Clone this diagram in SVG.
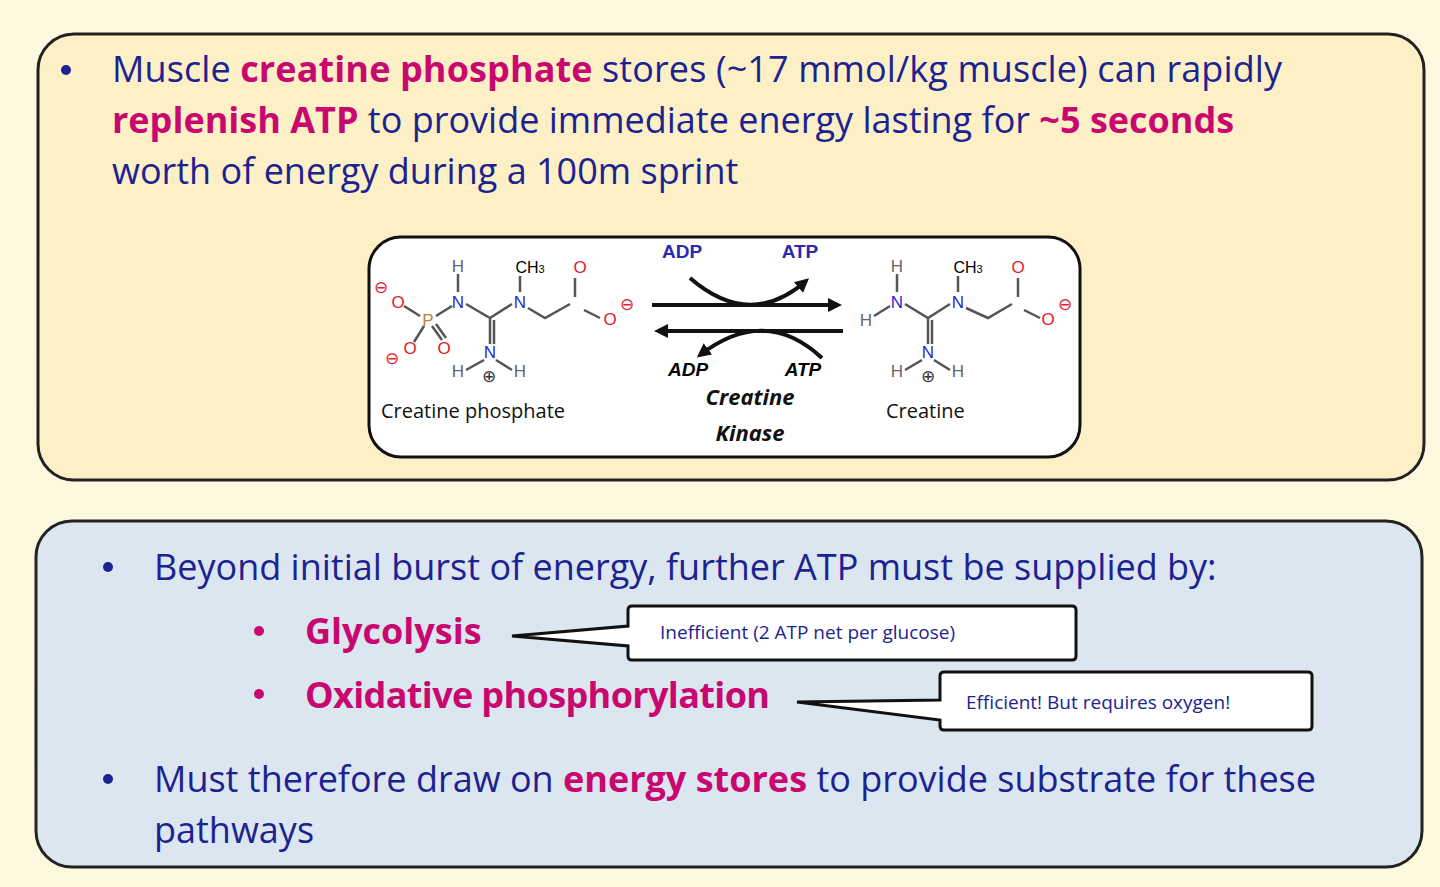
<svg xmlns="http://www.w3.org/2000/svg" width="1440" height="887" viewBox="0 0 1440 887">
<style>
.t{font-family:"Open Sans","Liberation Sans",sans-serif;font-size:36px;fill:#1c2390}
.m{fill:#c8086e;font-weight:bold}
.a{font-family:"Liberation Sans",sans-serif;font-size:17px;text-anchor:middle}
.r{fill:#e0202a}.b{fill:#2a2ac8}.g{fill:#666}
.bd{stroke:#555;stroke-width:2.5;fill:none}
.lbl{font-family:"Open Sans","Liberation Sans",sans-serif;font-size:20px;fill:#111}
.k{font-family:"Open Sans","Liberation Sans",sans-serif;font-size:22px;font-style:italic;font-weight:bold;fill:#111;text-anchor:middle}
.c{font-family:"Open Sans","Liberation Sans",sans-serif;font-size:19px;fill:#1c2390}
</style>
<defs><marker id="ah" markerWidth="16" markerHeight="16" refX="10" refY="8" orient="auto" markerUnits="userSpaceOnUse"><path d="M0,1 L14,8 L0,15 z" fill="#111"/></marker></defs>
<rect width="1440" height="887" fill="#fdf9df"/>
<g id="top">
<rect x="38" y="34" width="1386" height="446" rx="36" fill="#fdf0c6" stroke="#222" stroke-width="3"/>
<circle cx="66" cy="70" r="5" fill="#1c2390"/>
<text class="t" x="112" y="82" textLength="1170">Muscle <tspan class="m">creatine phosphate</tspan> stores (~17 mmol/kg muscle) can rapidly</text>
<text class="t" x="112" y="133"><tspan class="m">replenish ATP</tspan> to provide immediate energy lasting for <tspan class="m">~5 seconds</tspan></text>
<text class="t" x="112" y="184">worth of energy during a 100m sprint</text>
</g>
<g id="reaction">
<rect x="369" y="237" width="711" height="220" rx="32" fill="#fff" stroke="#111" stroke-width="3"/>
<g id="cp">
<path class="bd" d="M458,274V292 M466,304L490,318 L512,304 M490,318V344 M520,276V292 M528,308L545,318 L570,304 M575,297V278 M584,310L600,318 M452,306L436,316 M420,316L404,306 M424,326L414,342 M432,326L442,340 M436,324L446,338 M484,360L466,370 M496,360L512,370 M494,320V344"/>
<text class="a g" x="458" y="272">H</text>
<text class="a b" x="458" y="308">N</text>
<text class="a" x="530" y="273" style="font-size:16px">CH<tspan font-size="11">3</tspan></text>
<text class="a b" x="520" y="308">N</text>
<text class="a r" x="580" y="273">O</text>
<text class="a r" x="610" y="325">O</text>
<text class="a r" x="627" y="310">⊖</text>
<text class="a" x="428" y="326" fill="#c08040">P</text>
<text class="a r" x="398" y="308">O</text>
<text class="a r" x="381" y="293">⊖</text>
<text class="a r" x="410" y="354">O</text>
<text class="a r" x="392" y="364">⊖</text>
<text class="a r" x="444" y="354">O</text>
<text class="a b" x="490" y="358">N</text>
<text class="a g" x="458" y="377">H</text>
<text class="a g" x="520" y="377">H</text>
<text class="a" x="489" y="382" fill="#333">⊕</text>
<text class="lbl" x="381" y="418">Creatine phosphate</text>
</g>
<g id="cr">
<path class="bd" d="M897,274V292 M905,304L928,318 L950,304 M928,318V344 M958,276V292 M966,308L988,318 L1012,304 M1018,297V278 M1024,310L1040,318 M890,306L874,316 M932,320V344 M922,360L905,370 M934,360L950,370"/>
<text class="a g" x="897" y="272">H</text>
<text class="a b" x="897" y="308">N</text>
<text class="a g" x="866" y="326">H</text>
<text class="a" x="968" y="273" style="font-size:16px">CH<tspan font-size="11">3</tspan></text>
<text class="a b" x="958" y="308">N</text>
<text class="a r" x="1018" y="273">O</text>
<text class="a r" x="1048" y="325">O</text>
<text class="a r" x="1065" y="310">⊖</text>
<text class="a b" x="928" y="358">N</text>
<text class="a g" x="897" y="377">H</text>
<text class="a g" x="958" y="377">H</text>
<text class="a" x="928" y="382" fill="#333">⊕</text>
<text class="lbl" x="886" y="418">Creatine</text>
</g>
<g id="connectors" stroke="#111" stroke-width="4" fill="none">
<path d="M652,305H838" marker-end="url(#ah)"/>
<path d="M843,331H658" marker-end="url(#ah)"/>
<path d="M690,278Q750,330 806,281" marker-end="url(#ah)"/>
<path d="M822,358Q765,305 700,355" marker-end="url(#ah)"/>
</g>
<text class="a" x="682" y="258" style="font-size:19px;font-weight:bold" fill="#2a2ab0">ADP</text>
<text class="a" x="800" y="258" style="font-size:19px;font-weight:bold" fill="#2a2ab0">ATP</text>
<text class="a" x="688" y="376" style="font-size:19px;font-weight:bold;font-style:italic">ADP</text>
<text class="a" x="803" y="376" style="font-size:19px;font-weight:bold;font-style:italic">ATP</text>
<text class="k" x="750" y="405">Creatine</text>
<text class="k" x="750" y="441">Kinase</text>
</g>
<g id="bottom">
<rect x="36" y="521" width="1386" height="346" rx="36" fill="#dce6f0" stroke="#222" stroke-width="3"/>
<circle cx="108" cy="567" r="5" fill="#1c2390"/>
<text class="t" x="154" y="580">Beyond initial burst of energy, further ATP must be supplied by:</text>
<circle cx="259" cy="631" r="5" fill="#c8086e"/>
<text class="t m" x="305" y="644">Glycolysis</text>
<circle cx="259" cy="694" r="5" fill="#c8086e"/>
<text class="t m" x="305" y="708" textLength="465">Oxidative phosphorylation</text>
<circle cx="108" cy="779" r="5" fill="#1c2390"/>
<text class="t" x="154" y="792">Must therefore draw on <tspan class="m">energy stores</tspan> to provide substrate for these</text>
<text class="t" x="154" y="843">pathways</text>
</g>
<g id="callout1">
<path d="M632,606H1072Q1076,606 1076,610V656Q1076,660 1072,660H632Q628,660 628,656V646L512,636L628,626V610Q628,606 632,606z" fill="#fff" stroke="#111" stroke-width="3"/>
<text class="c" x="660" y="639">Inefficient (2 ATP net per glucose)</text>
</g>
<g id="callout2">
<path d="M944,672H1308Q1312,672 1312,676V726Q1312,730 1308,730H944Q940,730 940,726V720L797,702L940,700V676Q940,672 944,672z" fill="#fff" stroke="#111" stroke-width="3"/>
<text class="c" x="966" y="709">Efficient! But requires oxygen!</text>
</g>
</svg>
